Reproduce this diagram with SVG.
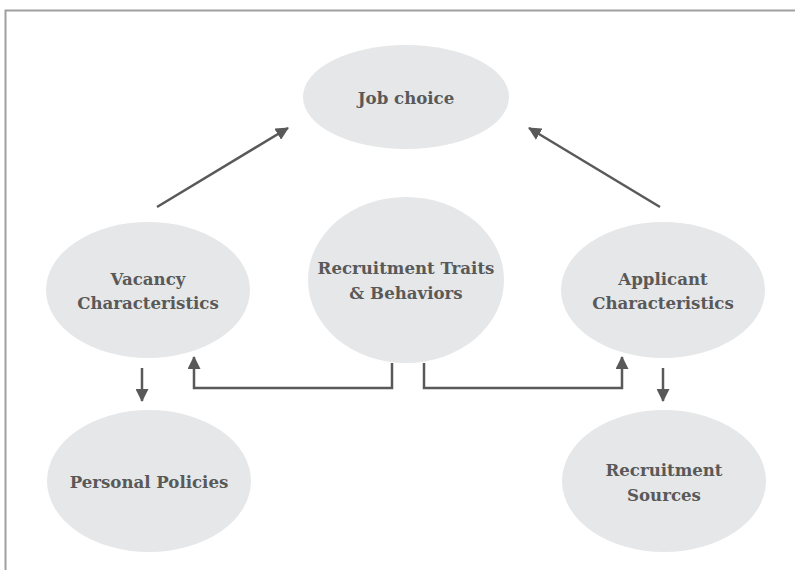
<svg xmlns="http://www.w3.org/2000/svg" width="795" height="570" viewBox="0 0 795 570">
<defs>
<style>
.node{fill:#e6e7e8}
.lbl{font-family:"DejaVu Serif","Liberation Serif",serif;font-weight:bold;font-size:16.6px;fill:#595959;text-anchor:middle}
.conn{fill:none;stroke:#595959;stroke-width:2.5}
.frame{fill:none;stroke:#a0a0a0;stroke-width:2}
</style>
<marker id="ah2" viewBox="0 0 13 13" markerWidth="13" markerHeight="13" refX="12" refY="6.5" orient="auto" markerUnits="userSpaceOnUse">
<path d="M0,0 L13,6.5 L0,13 z" fill="#595959"/>
</marker>
</defs>
<rect width="795" height="570" fill="#ffffff"/>
<path class="frame" d="M795,10.5 H5.5 V570"/>
<g id="job-choice"><ellipse class="node" cx="406" cy="97" rx="103" ry="52"/><text class="lbl" x="406" y="104">Job choice</text></g>
<g id="vacancy"><ellipse class="node" cx="148" cy="290" rx="102" ry="68"/><text class="lbl" x="148" y="285">Vacancy</text><text class="lbl" x="148" y="309">Characteristics</text></g>
<g id="traits"><ellipse class="node" cx="406" cy="280" rx="98" ry="83"/><text class="lbl" x="406" y="274">Recruitment Traits</text><text class="lbl" x="406" y="299">&amp; Behaviors</text></g>
<g id="applicant"><ellipse class="node" cx="663" cy="290" rx="102" ry="68"/><text class="lbl" x="663" y="285">Applicant</text><text class="lbl" x="663" y="309">Characteristics</text></g>
<g id="policies"><ellipse class="node" cx="149" cy="481" rx="102" ry="71"/><text class="lbl" x="149" y="488">Personal Policies</text></g>
<g id="sources"><ellipse class="node" cx="664" cy="481" rx="102" ry="71"/><text class="lbl" x="664" y="476">Recruitment</text><text class="lbl" x="664" y="501">Sources</text></g>
<g id="connectors">
<path class="conn" d="M157,207 L288,128" marker-end="url(#ah2)"/>
<path class="conn" d="M660,207 L529,128" marker-end="url(#ah2)"/>
<path class="conn" d="M142,368 V401" marker-end="url(#ah2)"/>
<path class="conn" d="M663,368 V401" marker-end="url(#ah2)"/>
<path class="conn" d="M392,363 V388 H194 V357" marker-end="url(#ah2)"/>
<path class="conn" d="M424,363 V388 H622 V357" marker-end="url(#ah2)"/>
</g>
</svg>
